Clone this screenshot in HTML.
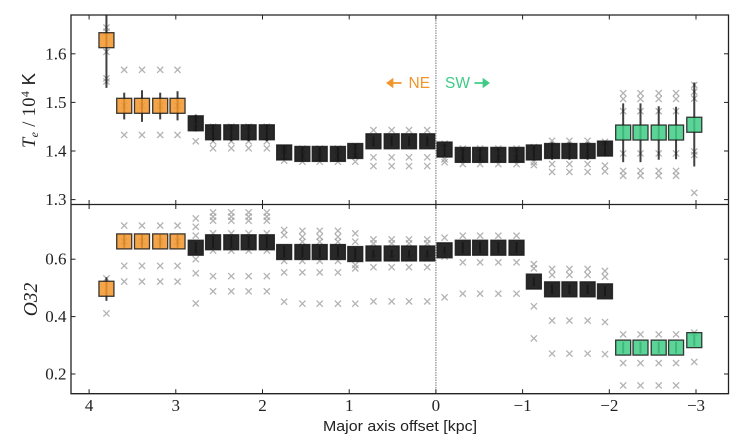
<!DOCTYPE html>
<html>
<head>
<meta charset="utf-8">
<style>
html,body{margin:0;padding:0;background:#fff;width:747px;height:448px;overflow:hidden}
svg{display:block}
.tick{font-family:"Liberation Serif",serif;font-size:17px;fill:#222}
.lab{font-family:"Liberation Sans",sans-serif;fill:#222}
</style>
</head>
<body>
<svg id="chart" xmlns="http://www.w3.org/2000/svg" width="747" height="448" viewBox="0 0 747 448">
<defs>
<clipPath id="clipTop"><rect x="71" y="15" width="657.5" height="189.5"/></clipPath>
<clipPath id="clipBottom"><rect x="71" y="204.5" width="657.5" height="189.5"/></clipPath>
</defs>
</svg>
<script>
const xTickValues = [4, 3, 2, 1, 0, -1, -2, -3];
const xTickLabels = ["4", "3", "2", "1", "0", "\u22121", "\u22122", "\u22123"];
const teTickValues = [1.6, 1.5, 1.4, 1.3];
const teTickLabels = ["1.6", "1.5", "1.4", "1.3"];
const o32TickValues = [0.6, 0.4, 0.2];
const o32TickLabels = ["0.6", "0.4", "0.2"];
const regions = ["ne","ne","ne","ne","ne","mid","mid","mid","mid","mid","mid","mid","mid","mid","mid","mid","mid","mid","mid","mid","mid","mid","mid","mid","mid","mid","mid","mid","mid","sw","sw","sw","sw","sw"];
const offsets = [3.80,3.595,3.39,3.18,2.98,2.77,2.57,2.36,2.16,1.95,1.75,1.54,1.34,1.13,0.93,0.72,0.51,0.31,0.10,-0.10,-0.31,-0.51,-0.72,-0.93,-1.13,-1.34,-1.54,-1.75,-1.95,-2.16,-2.36,-2.57,-2.77,-2.98];
const teValues = [1.628,1.493,1.493,1.493,1.493,1.457,1.4385,1.4385,1.4385,1.4385,1.397,1.394,1.394,1.394,1.40,1.42,1.42,1.42,1.42,1.403,1.392,1.392,1.392,1.392,1.397,1.40,1.40,1.40,1.405,1.438,1.438,1.438,1.438,1.454];
const teUpper = [1.74,1.52,1.525,1.52,1.523,1.475,1.455,1.455,1.455,1.455,1.412,1.408,1.408,1.408,1.415,1.43,1.43,1.43,1.43,1.415,1.405,1.405,1.405,1.405,1.41,1.418,1.418,1.418,1.42,1.498,1.498,1.492,1.491,1.541];
const teLower = [1.53,1.465,1.46,1.465,1.463,1.44,1.42,1.42,1.42,1.42,1.382,1.38,1.38,1.38,1.385,1.41,1.41,1.41,1.41,1.39,1.378,1.378,1.378,1.378,1.38,1.382,1.382,1.382,1.39,1.377,1.377,1.382,1.383,1.368];
const teCrosses = [
[1.654,1.6455,1.604,1.5495,1.543],
[1.567,1.493,1.433],[1.567,1.493,1.433],[1.567,1.493,1.433],[1.567,1.493,1.433],
[1.464,1.447,1.42],
[1.45,1.42,1.4055],[1.45,1.42,1.4055],[1.45,1.42,1.4055],[1.45,1.42,1.4055],
[1.405,1.4,1.38],[1.405,1.39,1.378],[1.405,1.39,1.378],[1.405,1.39,1.378],
[1.41,1.39,1.378],
[1.443,1.387,1.369],[1.443,1.387,1.369],[1.443,1.387,1.369],[1.443,1.387,1.369],
[1.415,1.383,1.377],
[1.405,1.385,1.373],[1.405,1.385,1.373],[1.405,1.385,1.373],[1.405,1.385,1.373],
[1.408,1.377,1.371],
[1.421,1.373,1.357],[1.421,1.373,1.357],[1.421,1.373,1.357],
[1.419,1.37,1.358],
[1.519,1.507,1.482,1.395,1.359,1.349],[1.519,1.507,1.482,1.395,1.359,1.349],[1.519,1.507,1.482,1.395,1.359,1.349],[1.519,1.507,1.482,1.395,1.359,1.349],
[1.536,1.522,1.508,1.399,1.392,1.314]
];
const o32Values = [0.497,0.662,0.662,0.662,0.662,0.64,0.659,0.659,0.659,0.659,0.625,0.625,0.625,0.625,0.618,0.62,0.62,0.62,0.62,0.631,0.64,0.64,0.64,0.64,0.522,0.495,0.495,0.495,0.488,0.292,0.292,0.292,0.292,0.318];
const o32Upper = [0.537,0.685,0.685,0.685,0.685,0.66,0.68,0.68,0.68,0.68,0.645,0.645,0.645,0.645,0.638,0.632,0.632,0.632,0.632,0.643,0.66,0.66,0.66,0.66,0.537,0.512,0.512,0.512,0.506,0.312,0.312,0.312,0.312,0.338];
const o32Lower = [0.455,0.64,0.64,0.64,0.64,0.62,0.638,0.638,0.638,0.638,0.605,0.605,0.605,0.605,0.598,0.608,0.608,0.608,0.608,0.619,0.62,0.62,0.62,0.62,0.507,0.478,0.478,0.478,0.47,0.272,0.272,0.272,0.272,0.298];
const o32Crosses = [
[0.533,0.411],
[0.717,0.662,0.577,0.522],[0.717,0.662,0.577,0.522],[0.717,0.662,0.577,0.522],[0.717,0.662,0.577,0.522],
[0.742,0.713,0.682,0.6,0.551,0.446],
[0.763,0.748,0.734,0.69,0.63,0.541,0.488],[0.763,0.748,0.734,0.69,0.63,0.541,0.488],[0.763,0.748,0.734,0.69,0.63,0.541,0.488],[0.763,0.748,0.734,0.69,0.63,0.541,0.488],
[0.702,0.684,0.594,0.554,0.452],
[0.699,0.678,0.661,0.594,0.554,0.445],[0.699,0.678,0.661,0.594,0.554,0.445],[0.699,0.678,0.661,0.594,0.554,0.445],
[0.69,0.661,0.58,0.568,0.445],
[0.669,0.655,0.603,0.572,0.453],[0.669,0.655,0.603,0.572,0.453],[0.669,0.655,0.603,0.572,0.453],[0.669,0.655,0.603,0.572,0.453],
[0.675,0.609,0.467],
[0.682,0.589,0.48],[0.682,0.589,0.48],[0.682,0.589,0.48],[0.682,0.589,0.48],
[0.583,0.568,0.436,0.324],
[0.566,0.545,0.386,0.271],[0.566,0.545,0.386,0.271],[0.566,0.545,0.386,0.271],
[0.559,0.539,0.381,0.269],
[0.338,0.238,0.16],[0.338,0.238,0.16],[0.338,0.238,0.16],[0.338,0.238,0.16],
[0.344,0.242]
];

const NS = "http://www.w3.org/2000/svg";
const svg = document.getElementById("chart");
const L = 71, R = 728.5, T1 = 15, M = 204.5, B2 = 393.7;
function xPos(v){ return 435.9 - v * 86.7; }
function yTe(v){ return 151 - (v - 1.4) * 486; }
function yO32(v){ return 374 - (v - 0.2) * 287; }
function make(tag, attrs, parent){
  const el = document.createElementNS(NS, tag);
  for (const k in attrs) el.setAttribute(k, attrs[k]);
  (parent || svg).appendChild(el);
  return el;
}
const fills = { ne: "#f2952a", mid: "#161616", sw: "#3fcb85" };
const fillAlpha = { ne: "0.85", mid: "0.92", sw: "0.85" };

function drawPanel(name, yFn, values, upper, lower, crosses, clipId){
  const g = make("g", { "clip-path": "url(#" + clipId + ")" });
  
  
  crosses.forEach(function(list, i){
    list.forEach(function(v){
      const x = xPos(offsets[i]), y = yFn(v), s = 3.1;
      const c = make("path", { d: "M" + (x-s) + " " + (y-s) + "L" + (x+s) + " " + (y+s) + "M" + (x-s) + " " + (y+s) + "L" + (x+s) + " " + (y-s), stroke: "#9a9a9a", "stroke-opacity": "0.75", "stroke-width": "1.3", fill: "none" }, g);
      
      
    });
  });
  values.forEach(function(v, i){
    const x = xPos(offsets[i]);
    const e = make("line", { x1: x, x2: x, y1: yFn(upper[i]), y2: yFn(lower[i]), stroke: "#111", "stroke-opacity": "0.8", "stroke-width": "2" }, g);
    
    
  });
  values.forEach(function(v, i){
    const x = xPos(offsets[i]), y = yFn(v), h = 7.5;
    const r = make("rect", { x: x-h, y: y-h, width: 2*h, height: 2*h, fill: fills[regions[i]], "fill-opacity": fillAlpha[regions[i]], stroke: "#1a1a1a", "stroke-opacity": "0.85", "stroke-width": "1.3" }, g);
    
    
  });
}

[[T1, M], [M, B2]].forEach(function(p){
  const z = make("line", { x1: xPos(0), x2: xPos(0), y1: p[0], y2: p[1], stroke: "#777", "stroke-width": "1", "stroke-dasharray": "1.5 1" });
  
  
});

drawPanel("te", yTe, teValues, teUpper, teLower, teCrosses, "clipTop");
drawPanel("o32", yO32, o32Values, o32Upper, o32Lower, o32Crosses, "clipBottom");

const frame = make("path", { d: "M"+L+" "+T1+"H"+R+"V"+B2+"H"+L+"ZM"+L+" "+M+"H"+R, fill: "none", stroke: "#222", "stroke-width": "1.3" });



function tickLine(x1, y1, x2, y2, name){
  const t = make("line", { x1: x1, y1: y1, x2: x2, y2: y2, stroke: "#222", "stroke-width": "1" });
  
  
}
function tickText(x, y, str, anchor, name){
  const t = make("text", { x: x, y: y, "text-anchor": anchor, "class": "tick" });
  t.textContent = str;
  
  
}
xTickValues.forEach(function(v, i){
  const x = xPos(v);
  tickLine(x, T1, x, T1+4.5, "x-tick");
  tickLine(x, M-4.5, x, M, "x-tick");
  tickLine(x, M, x, M+4.5, "x-tick");
  tickLine(x, B2-4.5, x, B2, "x-tick");
  tickText(x, 411, xTickLabels[i], "middle", "x-tick-label");
});
teTickValues.forEach(function(v, i){
  const y = yTe(v);
  tickLine(L, y, L+4.5, y, "te-y-tick");
  tickLine(R-4.5, y, R, y, "te-y-tick");
  tickText(66.5, y+5.5, teTickLabels[i], "end", "te-y-tick-label");
});
o32TickValues.forEach(function(v, i){
  const y = yO32(v);
  tickLine(L, y, L+4.5, y, "o32-y-tick");
  tickLine(R-4.5, y, R, y, "o32-y-tick");
  tickText(66.5, y+5.5, o32TickLabels[i], "end", "o32-y-tick-label");
});

function arrow(x1, x2, y, color, name){
  const d = x2 > x1 ? 1 : -1;
  const a = make("path", { d: "M"+x1+" "+y+"H"+(x2-d*4)+"M"+(x2-d*5)+" "+(y-3.6)+"L"+x2+" "+y+"L"+(x2-d*5)+" "+(y+3.6)+"Z", stroke: color, "stroke-width": "1.7", fill: color });
  
  
}
arrow(401.5, 387.5, 83, "#f2952a", "ne-arrow");
arrow(474.5, 488.5, 83, "#3fcb85", "sw-arrow");
</script>
<svg xmlns="http://www.w3.org/2000/svg" width="747" height="448" viewBox="0 0 747 448" style="position:absolute;left:0;top:0;pointer-events:none">
<text class="lab" x="408.5" y="88" font-size="15.5" style="fill:#f2952a">NE</text>
<text class="lab" x="445" y="88" font-size="15.5" style="fill:#3fcb85">SW</text>
<text class="lab" x="400" y="431" font-size="15" text-anchor="middle" textLength="154" lengthAdjust="spacingAndGlyphs">Major axis offset [kpc]</text>
<text transform="translate(35,110.5) rotate(-90)" text-anchor="middle" font-family="'Liberation Serif',serif" font-size="18.5" fill="#222" textLength="75" lengthAdjust="spacing"><tspan font-style="italic">T</tspan><tspan font-style="italic" font-size="12" dy="3">e</tspan><tspan dy="-3"> / 10</tspan><tspan font-size="12" dy="-6">4</tspan><tspan dy="6" font-family="'Liberation Sans',sans-serif"> K</tspan></text>
<text transform="translate(37,299.5) rotate(-90)" text-anchor="middle" font-family="'Liberation Serif',serif" font-size="19.5" font-style="italic" fill="#222">O32</text>
</svg>
</body>
</html>
